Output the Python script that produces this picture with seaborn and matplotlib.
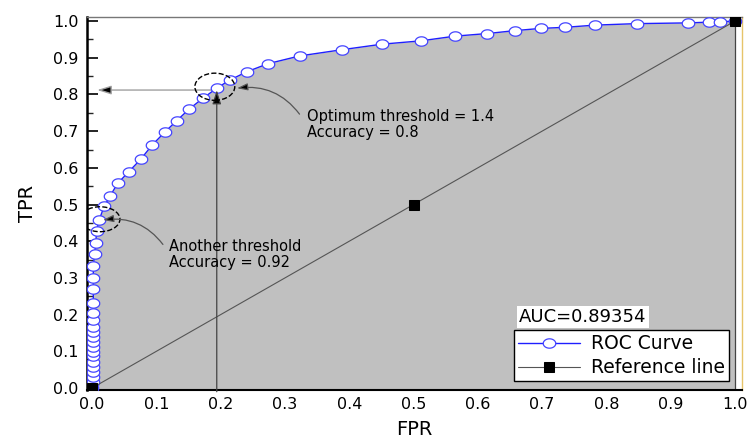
import numpy as np
import matplotlib
matplotlib.use("Agg")
import matplotlib.pyplot as plt
from matplotlib.patches import Ellipse
from matplotlib.ticker import MultipleLocator
import seaborn as sns

# ROC curve points
roc_fpr = [0.0, 0.002, 0.002, 0.002, 0.002, 0.002, 0.002, 0.002, 0.002, 0.002,
           0.002, 0.002, 0.002, 0.002, 0.002, 0.002, 0.002, 0.002, 0.002, 0.004,
           0.006, 0.007, 0.011, 0.019, 0.028, 0.040, 0.057, 0.076, 0.094, 0.113,
           0.132, 0.151, 0.172, 0.194, 0.214, 0.241, 0.274, 0.323, 0.389, 0.451,
           0.511, 0.565, 0.615, 0.658, 0.698, 0.736, 0.783, 0.847, 0.927, 0.960,
           0.977, 1.0]
roc_tpr = [0.0, 0.017, 0.031, 0.044, 0.058, 0.072, 0.086, 0.099, 0.113, 0.126,
           0.140, 0.154, 0.167, 0.185, 0.204, 0.231, 0.270, 0.300, 0.332, 0.364,
           0.396, 0.428, 0.458, 0.495, 0.523, 0.558, 0.589, 0.624, 0.663, 0.697,
           0.729, 0.760, 0.789, 0.817, 0.839, 0.862, 0.884, 0.905, 0.922, 0.937,
           0.946, 0.959, 0.966, 0.974, 0.980, 0.983, 0.989, 0.993, 0.995, 0.997,
           0.998, 1.0]

ref_x = [0.0, 0.5, 1.0]
ref_y = [0.0, 0.5, 1.0]

auc_value = 0.89354
opt_point = (0.194, 0.817)
other_point = (0.011, 0.458)

sns.set_theme(style="ticks")
plt.rcParams['font.family'] = ['DejaVu Sans']
plt.rcParams['text.color'] = 'black'
plt.rcParams['axes.labelcolor'] = 'black'

fig = plt.figure(figsize=(7.52, 4.41), dpi=100)
ax = fig.add_axes([0.1157, 0.1156, 0.871, 0.8458])

# grey area under the curve
ax.fill_between(roc_fpr, roc_tpr, -0.05, color='#c0c0c0', lw=0, zorder=1)
ax.plot([1.0, 1.0], [-0.05, 1.0], color='#444444', lw=0.9, zorder=1.5)

# slightly wide ellipse as marker, the original looks stretched
t = np.linspace(0, 2 * np.pi, 41)
ell_marker = list(zip(np.cos(t), 0.75 * np.sin(t)))

sns.lineplot(x=roc_fpr, y=roc_tpr, sort=False, estimator=None, color='#1f1fff',
             lw=1.0, marker=ell_marker, markersize=9, markerfacecolor='white',
             markeredgecolor='#4444ff', markeredgewidth=0.9, label='ROC Curve',
             ax=ax, zorder=4)
sns.lineplot(x=ref_x, y=ref_y, sort=False, estimator=None, color='#555555',
             lw=0.8, marker='s', markersize=7, markerfacecolor='black',
             markeredgecolor='black', label='Reference line', ax=ax, zorder=5)

# optimum threshold guides
ax.annotate('', xy=(opt_point[0], opt_point[1] - 0.005), xytext=(opt_point[0], -0.01),
            arrowprops=dict(arrowstyle='-|>,head_length=0.7,head_width=0.22',
                            edgecolor='#444444', facecolor='black', lw=0.9,
                            shrinkA=0, shrinkB=0), zorder=5)
ax.annotate('', xy=(0.008, 0.812), xytext=(opt_point[0], 0.812),
            arrowprops=dict(arrowstyle='-|>,head_length=0.7,head_width=0.22',
                            edgecolor='#a0a0a0', facecolor='black', lw=1.0,
                            shrinkA=0, shrinkB=0), zorder=2)

ax.add_patch(Ellipse((0.191, 0.821), 0.062, 0.074, fill=False, ls='--',
                     ec='black', lw=1.0, zorder=6))
ax.add_patch(Ellipse((0.0124, 0.46), 0.062, 0.068, fill=False, ls='--',
                     ec='black', lw=1.0, zorder=6))

ax.annotate('Optimum threshold = 1.4\nAccuracy = 0.8', xy=(0.2255, 0.817),
            xytext=(0.334, 0.719), va='center', ha='left', fontsize=10.5,
            linespacing=1.1,
            arrowprops=dict(arrowstyle='-|>,head_length=0.6,head_width=0.2',
                            connectionstyle='arc3,rad=0.3', edgecolor='#555555',
                            facecolor='black', lw=0.9, shrinkA=2, shrinkB=0,
                            relpos=(-0.03, 0.75)), zorder=7)
ax.annotate('Another threshold\nAccuracy = 0.92', xy=(0.017, 0.458),
            xytext=(0.119, 0.364), va='center', ha='left', fontsize=10.5,
            linespacing=1.1,
            arrowprops=dict(arrowstyle='-|>,head_length=0.6,head_width=0.2',
                            connectionstyle='arc3,rad=0.3', edgecolor='#555555',
                            facecolor='black', lw=0.9, shrinkA=2, shrinkB=0,
                            relpos=(-0.03, 0.75)), zorder=7)

ax.text(0.66, 0.196, f'AUC={auc_value}', transform=ax.transAxes, fontsize=13,
        va='center', ha='left', zorder=8,
        bbox=dict(facecolor='white', edgecolor='none', pad=1.5))

handles, labels = ax.get_legend_handles_labels()
order = [labels.index('ROC Curve'), labels.index('Reference line')]
leg = ax.legend([handles[i] for i in order], [labels[i] for i in order],
                loc='lower right', bbox_to_anchor=(0.98, 0.024), borderaxespad=0,
                fontsize=13.5, handlelength=3.3, labelspacing=0.28, borderpad=0.2,
                handletextpad=0.6, fancybox=False, framealpha=1, edgecolor='black')
leg.get_frame().set_linewidth(1.0)
leg.set_zorder(9)

ax.set_xlim(-0.0078, 1.0109)
ax.set_ylim(-0.0054, 1.011)
ax.xaxis.set_major_locator(MultipleLocator(0.1))
ax.xaxis.set_minor_locator(MultipleLocator(0.05))
ax.yaxis.set_major_locator(MultipleLocator(0.1))
ax.yaxis.set_minor_locator(MultipleLocator(0.05))
ax.xaxis.set_major_formatter(plt.FormatStrFormatter('%.1f'))
ax.yaxis.set_major_formatter(plt.FormatStrFormatter('%.1f'))

ax.tick_params(axis='y', which='major', direction='in', length=8, width=1.2,
               labelsize=11.5, pad=6, colors='black')
ax.tick_params(axis='y', which='minor', direction='in', length=4, width=1.0)
ax.tick_params(axis='x', which='major', direction='in', length=4, width=1.2,
               labelsize=11.5, pad=5, colors='black')
ax.tick_params(axis='x', which='minor', direction='in', length=2.5, width=1.0)

ax.spines['left'].set_linewidth(1.8)
ax.spines['left'].set_color('black')
ax.spines['bottom'].set_linewidth(1.5)
ax.spines['bottom'].set_color('black')
ax.spines['top'].set_visible(True)
ax.spines['top'].set_color('#777777')
ax.spines['top'].set_linewidth(1.0)
ax.spines['right'].set_visible(True)
ax.spines['right'].set_color('#e6c46a')
ax.spines['right'].set_linewidth(1.0)

ax.set_xlabel('FPR', fontsize=14, labelpad=6)
ax.set_ylabel('TPR', fontsize=14, labelpad=12)

fig.savefig('out.png', dpi=100)
